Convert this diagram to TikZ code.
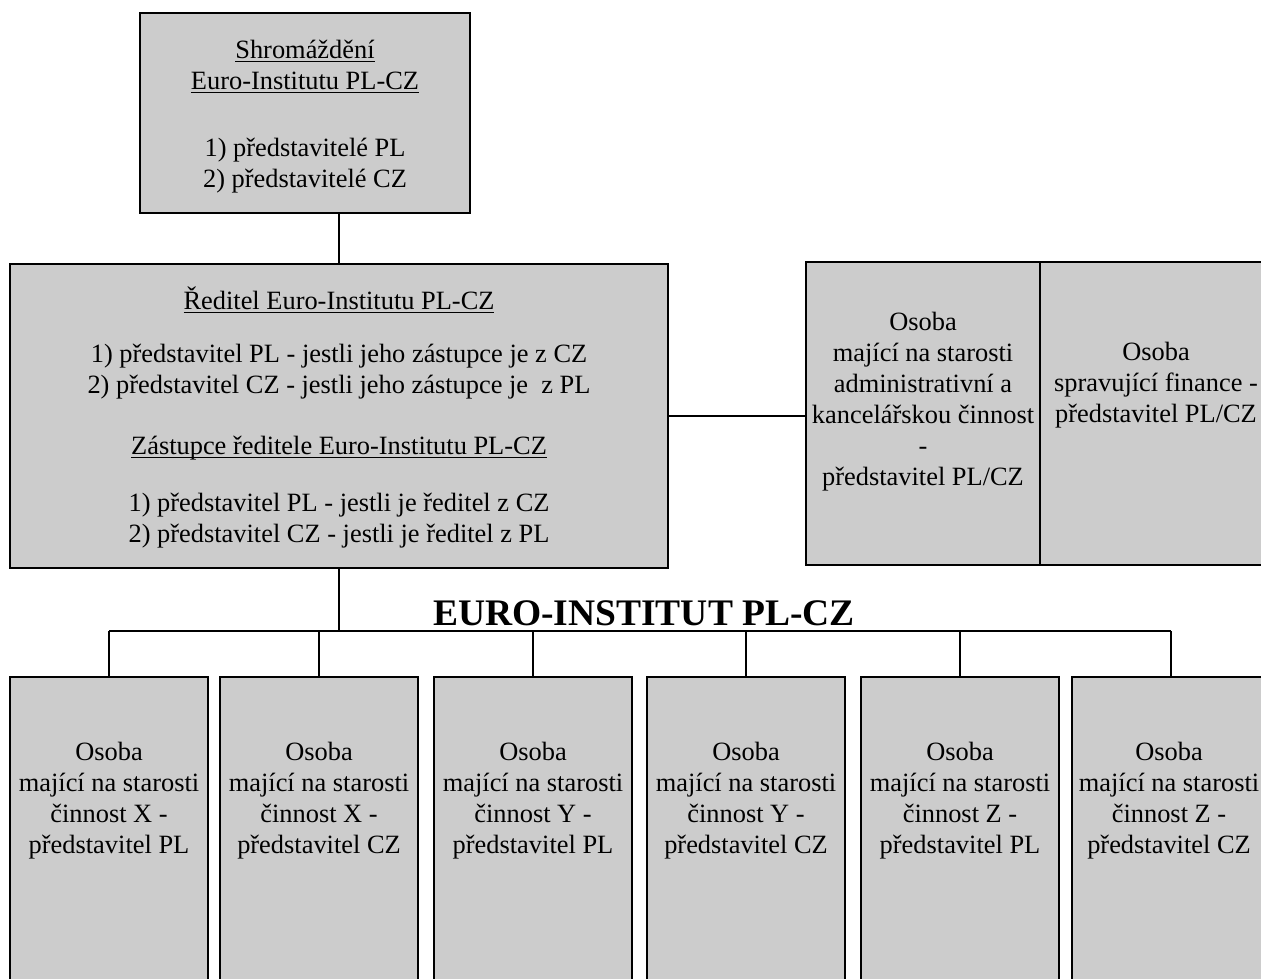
\documentclass[tikz,border=0pt]{standalone}
\usepackage{fontspec}
\setmainfont{Liberation Serif}
\newcommand{\ulbox}[1]{\underline{\smash{#1}}}
\begin{document}
\begin{tikzpicture}[x=0.5pt, y=-0.5pt,
        box/.style={draw=black, fill=black!20, line width=1pt, rectangle, inner sep=0pt},
        txt/.style={align=center, font=\fontsize{13.2}{15.5}\selectfont, inner sep=0pt},
        link/.style={draw=black, line width=0.8pt}]
                \useasboundingbox (0,0) rectangle (1261,978);
                \clip (0,0) rectangle (1261,978);

                \node[box, minimum width=165pt, minimum height=100pt] (shrom) at (305,113) {};
                \node[box, minimum width=329pt, minimum height=152pt] (reditel) at (339,416) {};
                \node[txt] (shromtxt) at (305,126)
                    {\ulbox{Shromáždění}\\\ulbox{Euro-Institutu PL-CZ}\\[18pt]1) představitelé PL\\2) představitelé CZ};
                \node[txt] (rediteltxt) at (339,429)
                    {\ulbox{Ředitel Euro-Institutu PL-CZ}\\[11pt]1) představitel PL - jestli jeho zástupce je z CZ\\2) představitel CZ - jestli jeho zástupce je\ \ z PL\\[15pt]\ulbox{Zástupce ředitele Euro-Institutu PL-CZ}\\[13pt]1) představitel PL - jestli je ředitel z CZ\\2) představitel CZ - jestli je ředitel z PL};

                \node[box, minimum width=117pt, minimum height=151.5pt] (admin) at (923,413.5) {};
                \node[box, minimum width=120pt, minimum height=151.5pt] (finance) at (1160,413.5) {};
                \node[txt] (admintxt) at (923,402) {Osoba\\mající na starosti\\administrativní a\\kancelářskou činnost\\-\\představitel PL/CZ};
                \node[txt] (financetxt) at (1156,385) {Osoba\\spravující finance -\\představitel PL/CZ};

                \node[font=\fontsize{18.75}{20}\selectfont\bfseries, anchor=base, inner sep=0pt] (title) at (644,625) {EURO-INSTITUT PL-CZ};

                \node[box, minimum width=99pt, minimum height=170pt] (xpl) at (109,847) {};
                \node[box, minimum width=99pt, minimum height=170pt] (xcz) at (319,847) {};
                \node[box, minimum width=99pt, minimum height=170pt] (ypl) at (533,847) {};
                \node[box, minimum width=99pt, minimum height=170pt] (ycz) at (746,847) {};
                \node[box, minimum width=99pt, minimum height=170pt] (zpl) at (960,847) {};
                \node[box, minimum width=99pt, minimum height=170pt] (zcz) at (1171,847) {};

                \node[txt] (xpltxt) at (109,801) {Osoba\\mající na starosti\\činnost X -\\představitel PL};
                \node[txt] (xcztxt) at (319,801) {Osoba\\mající na starosti\\činnost X -\\představitel CZ};
                \node[txt] (ypltxt) at (533,801) {Osoba\\mající na starosti\\činnost Y -\\představitel PL};
                \node[txt] (ycztxt) at (746,801) {Osoba\\mající na starosti\\činnost Y -\\představitel CZ};
                \node[txt] (zpltxt) at (960,801) {Osoba\\mající na starosti\\činnost Z -\\představitel PL};
                \node[txt] (zcztxt) at (1169,801) {Osoba\\mající na starosti\\činnost Z -\\představitel CZ};

                % connectors
                \coordinate (bus) at (0,631);
                \draw[link] (reditel.north) -- (reditel.north |- shrom.south);
                \draw[link] (reditel.east) -- (reditel.east -| admin.west);
                \draw[link] (reditel.south) -- (reditel.south |- bus);
                \draw[link] (xpl.north |- bus) -- (zcz.north |- bus);
                \draw[link] (xpl.north) -- (xpl.north |- bus);
                \draw[link] (xcz.north) -- (xcz.north |- bus);
                \draw[link] (ypl.north) -- (ypl.north |- bus);
                \draw[link] (ycz.north) -- (ycz.north |- bus);
                \draw[link] (zpl.north) -- (zpl.north |- bus);
                \draw[link] (zcz.north) -- (zcz.north |- bus);
\end{tikzpicture}
\end{document}
